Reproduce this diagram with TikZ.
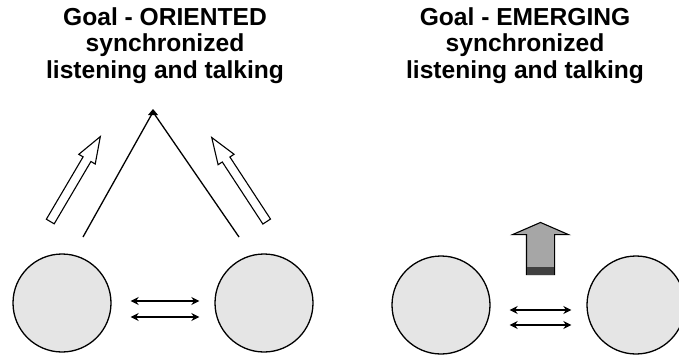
\documentclass[tikz,border=0pt]{standalone}
\usepackage{fontspec}
\setmainfont{Liberation Sans}
\usetikzlibrary{shapes.arrows,arrows.meta}
\begin{document}
\begin{tikzpicture}[x=1pt, y=-1pt,
    every node/.style={align=center},
    person/.style={draw, circle, line width=1.3pt, fill=black!10, minimum size=98pt, inner sep=0pt},
    heading/.style={font=\fontsize{24.6}{26.5}\selectfont\bfseries, inner sep=0pt, anchor=north},
    hollowarrow/.style={draw, single arrow, fill=white, line width=1.1pt, inner sep=4pt, single arrow head extend=5pt, single arrow tip angle=40, single arrow head indent=0pt, anchor=tail},
    talk/.style={{Stealth[length=8pt,width=8pt]}-{Stealth[length=8pt,width=8pt]}, line width=1.6pt, shorten <=19pt, shorten >=15pt}]
    \useasboundingbox (0,0) rectangle (679,356);
    \clip (0,0) rectangle (679,356);

    % Headings
    \node[heading] (oriented) at (165,7) {Goal - ORIENTED\\synchronized\\listening and talking};
    \node[heading] (emerging) at (525,7) {Goal - EMERGING\\synchronized\\listening and talking};

    % Left group: goal oriented
    \node[person] (lp1) at (62,303) {};
    \node[person] (lp2) at (264,303) {};
    \coordinate (apex) at (153,112);
    \coordinate (legl) at (83,237);
    \coordinate (legr) at (239,237);
    \draw[line width=1.3pt] (legl) -- (apex) -- (legr);
    \fill (apex) ++(-5,3) -- ++(10,0) -- ++(-5,-6) -- cycle;
    \node[hollowarrow, minimum height=98.6pt, rotate=59.5] (aiml) at (50,222) {};
    \node[hollowarrow, minimum height=100.4pt, rotate=123.2] (aimr) at (267,222) {};
    \draw[talk] ([yshift=2pt]lp1.east) -- ([yshift=2pt]lp2.west);
    \draw[talk] ([yshift=-14pt]lp1.east) -- ([yshift=-14pt]lp2.west);

    % Right group: goal emerging
    \node[person] (rp1) at (441,305) {};
    \node[person] (rp2) at (636,305) {};
    \node[draw, single arrow, fill=black!35, line width=1.1pt, inner sep=13.5pt, single arrow head extend=14pt, single arrow tip angle=133, single arrow head indent=0pt, minimum height=52pt, rotate=90, anchor=tail] (rise) at (540.5,275) {};
    \fill[black!75] (527,267) rectangle (554,275);
    \draw[talk] ([yshift=-5pt]rp1.east) -- ([yshift=-5pt]rp2.west);
    \draw[talk] ([yshift=-20pt]rp1.east) -- ([yshift=-20pt]rp2.west);
\end{tikzpicture}
\end{document}
